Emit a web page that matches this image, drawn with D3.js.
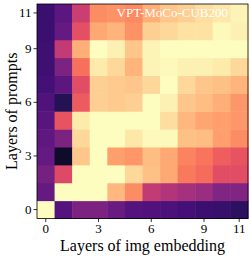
<!DOCTYPE html>
<html>
<head>
<meta charset="utf-8">
<script src="https://cdn.jsdelivr.net/npm/d3@7"></script>
<style>
  body { margin: 0; background: #fff; }
  text { font-family: "Liberation Serif", "DejaVu Serif", serif; fill: #000; }
</style>
</head>
<body>
<div id="chart"></div>
<script>
// prompt layers (rows) and img-embedding layers (cols)
const promptLayers = d3.range(12);
const imgLayers = d3.range(12);
const xTicks = [0, 3, 6, 9, 11];
const yTicks = [0, 3, 6, 9, 11];
const title = 'VPT-MoCo-CUB200';

// values per prompt layer (row 0 = bottom), one per img layer
const row0  = [1.00, 0.26, 0.36, 0.36, 0.31, 0.26, 0.25, 0.24, 0.22, 0.20, 0.19, 0.17];
const row1  = [0.30, 1.00, 1.00, 1.00, 0.85, 0.76, 0.53, 0.49, 0.46, 0.43, 0.37, 0.37];
const row2  = [0.34, 0.60, 1.00, 1.00, 1.00, 0.92, 0.87, 0.82, 0.72, 0.69, 0.61, 0.61];
const row3  = [0.30, 0.08, 0.88, 1.00, 0.80, 0.78, 0.86, 0.82, 0.74, 0.71, 0.66, 0.63];
const row4  = [0.29, 0.36, 0.92, 1.00, 1.00, 0.95, 0.99, 0.99, 0.87, 0.86, 0.80, 0.76];
const row5  = [0.27, 0.63, 0.96, 1.00, 1.00, 1.00, 1.00, 0.93, 0.85, 0.81, 0.80, 0.78];
const row6  = [0.25, 0.15, 0.65, 0.90, 0.89, 0.90, 1.00, 0.97, 0.88, 0.86, 0.83, 0.78];
const row7  = [0.22, 0.28, 0.61, 0.90, 0.89, 0.88, 0.92, 1.00, 0.92, 0.88, 0.87, 0.84];
const row8  = [0.21, 0.36, 0.70, 0.96, 0.92, 0.84, 0.98, 0.99, 0.97, 0.97, 0.96, 0.92];
const row9  = [0.21, 0.53, 0.83, 1.00, 0.97, 0.88, 0.98, 1.00, 1.00, 1.00, 1.00, 1.00];
const row10 = [0.20, 0.30, 0.62, 0.82, 0.84, 0.77, 0.90, 0.92, 0.94, 0.94, 0.99, 0.97];
const row11 = [0.20, 0.28, 0.55, 0.76, 0.77, 0.75, 0.83, 0.88, 0.90, 0.93, 0.95, 0.98];
const rows = [row0, row1, row2, row3, row4, row5, row6, row7, row8, row9, row10, row11];

const W = 249, H = 256;
const margin = { top: 4, right: 1, bottom: 37.5, left: 37 };
const iw = W - margin.left - margin.right;
const ih = H - margin.top - margin.bottom;

const svg = d3.select('#chart').append('svg')
  .attr('width', W).attr('height', H);
const g = svg.append('g').attr('transform', `translate(${margin.left},${margin.top})`);

const x = d3.scaleBand().domain(imgLayers).range([0, iw]);
const y = d3.scaleBand().domain(promptLayers).range([ih, 0]);
const color = d3.scaleSequential(d3.interpolateMagma).domain([0, 1]);

const cells = [];
rows.forEach((r, p) => r.forEach((v, i) => cells.push({ p, i, v })));

g.selectAll('rect.cell').data(cells).join('rect')
  .attr('class', 'cell')
  .attr('x', d => x(d.i))
  .attr('y', d => y(d.p))
  .attr('width', x.bandwidth() + 0.5)
  .attr('height', y.bandwidth() + 0.5)
  .attr('fill', d => color(d.v));

// frame
g.append('rect')
  .attr('width', iw).attr('height', ih)
  .attr('fill', 'none').attr('stroke', '#000').attr('stroke-width', 0.8);

const xAxis = g.append('g').attr('transform', `translate(0,${ih})`)
  .call(d3.axisBottom(x).tickValues(xTicks).tickSize(3.5).tickPadding(2));
const yAxis = g.append('g')
  .call(d3.axisLeft(y).tickValues(yTicks).tickSize(3.5).tickPadding(2));
[xAxis, yAxis].forEach(a => {
  a.select('.domain').remove();
  a.selectAll('text').attr('font-size', 13).attr('font-family', '"Liberation Serif", serif');
  a.selectAll('line').attr('stroke-width', 0.8);
});

g.append('text')
  .attr('x', iw / 2).attr('y', ih + 32)
  .attr('text-anchor', 'middle').attr('font-size', 16)
  .text('Layers of img embedding');

svg.append('text')
  .attr('transform', `translate(17,${margin.top + ih / 2}) rotate(-90)`)
  .attr('text-anchor', 'middle').attr('font-size', 16)
  .text('Layers of prompts');

g.append('text')
  .attr('x', 191).attr('y', 13)
  .attr('text-anchor', 'end').attr('font-size', 13)
  .style('fill', '#fff')
  .text(title);
</script>
</body>
</html>
